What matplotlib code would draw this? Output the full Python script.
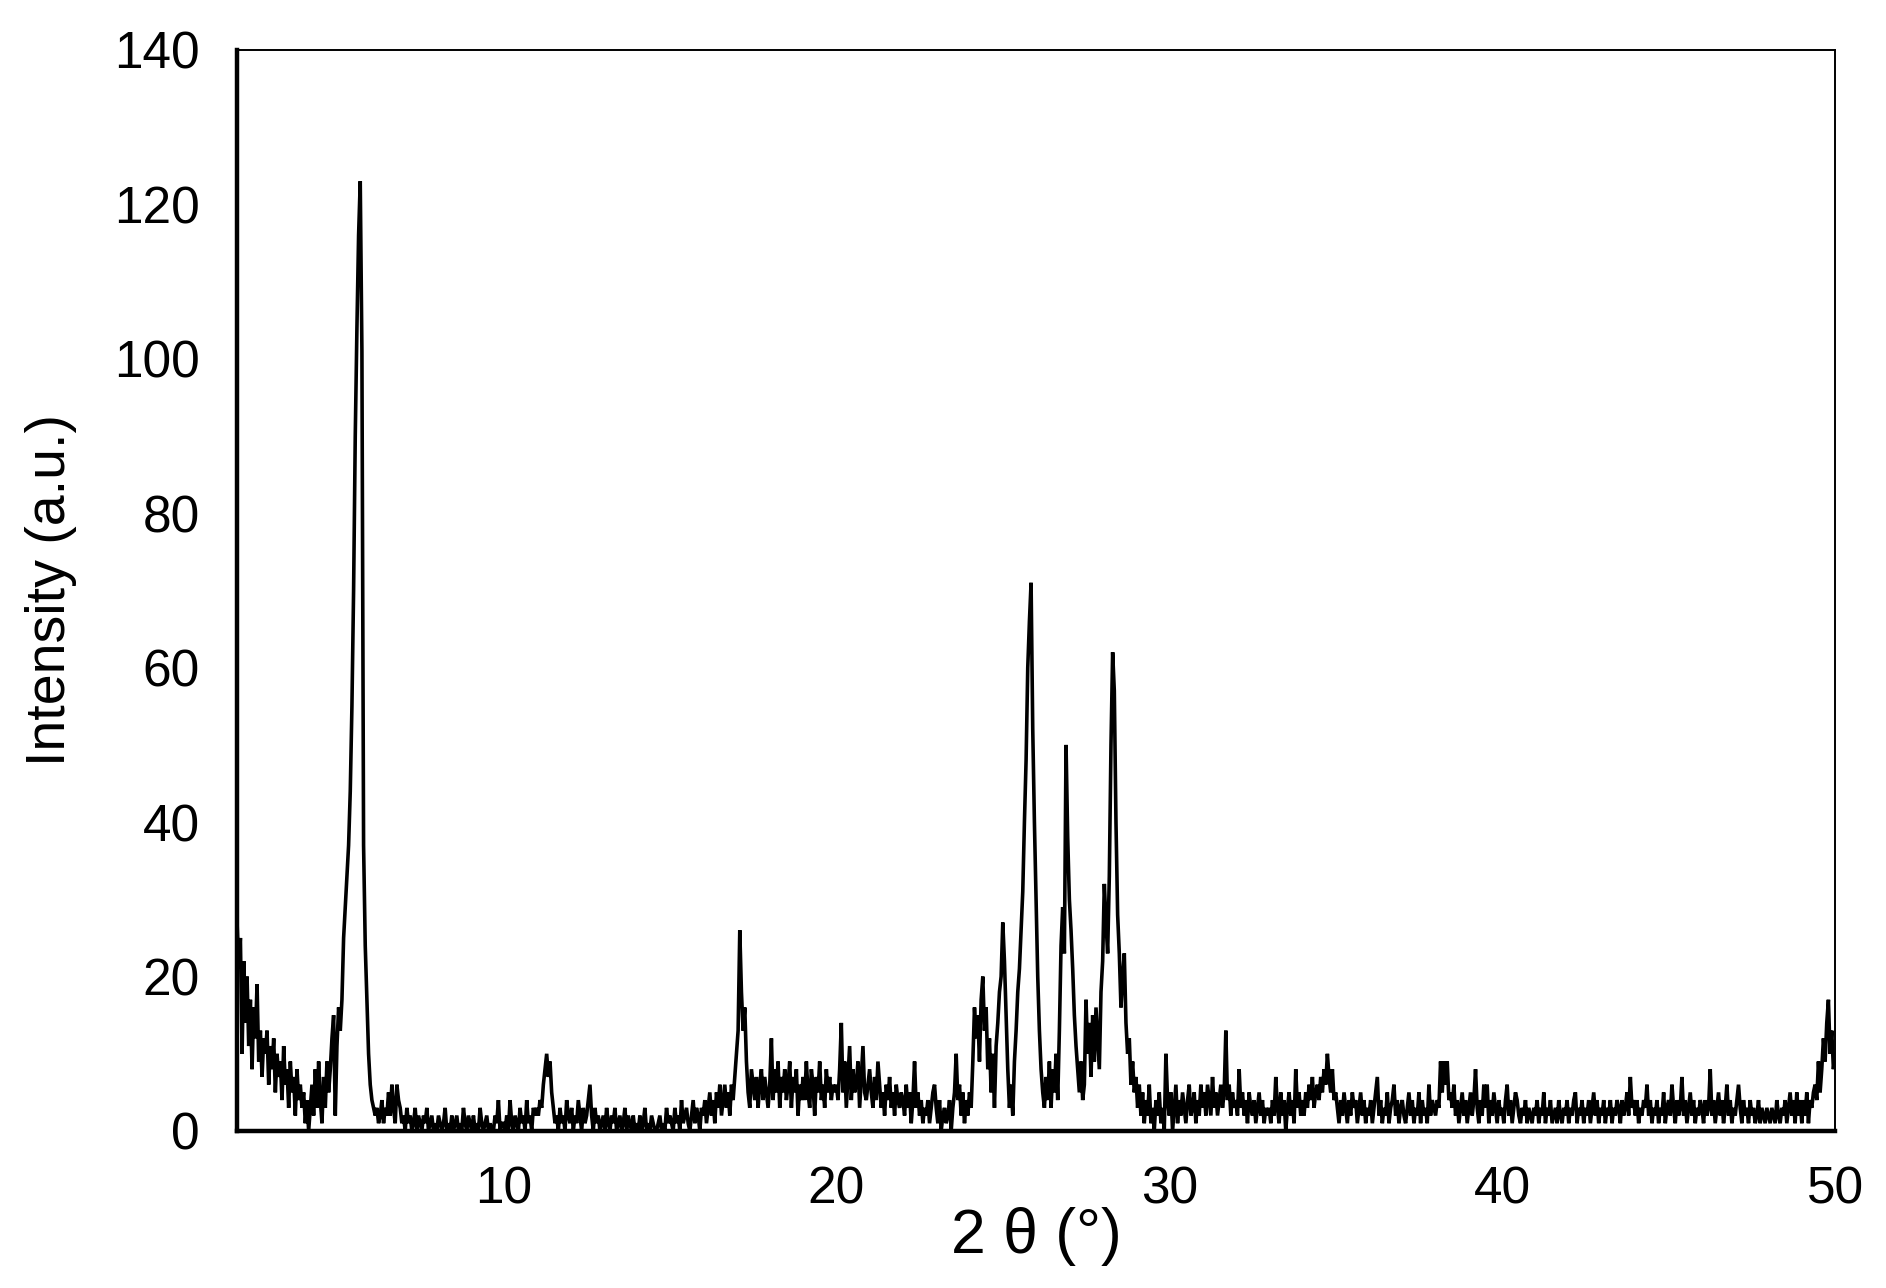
"""
XRD 衍射图谱重绘
功能：按参考图读取的强度数据绘制 2θ = 2°~50° 的 XRD 曲线
数据：扫描步长 0.05°，数值为从图上估读的强度 (a.u.)
"""

import numpy as np
import matplotlib
matplotlib.use("Agg")
import matplotlib.pyplot as plt

# 扫描参数
theta_start = 2.0
theta_step = 0.05

# 各区段强度（每行 1°，20 个点）
counts_2_6 = [
    27, 21, 25, 10, 22, 14, 20, 11, 17, 8, 16, 12, 19, 9, 13, 7, 12, 10, 13, 6,
    11, 8, 12, 5, 10, 7, 9, 4, 11, 6, 8, 3, 9, 5, 7, 2, 8, 4, 6, 3,
    5, 1, 4, 0, 3, 6, 2, 8, 3, 9, 4, 1, 7, 3, 9, 5, 8, 12, 15, 2,
    11, 16, 13, 17, 25, 29, 33, 37, 44, 55, 70, 90, 104, 116, 123, 101, 37, 24, 17, 10,
]

counts_6_12 = [
    6, 4, 3, 2, 3, 1, 2, 4, 1, 3, 2, 5, 2, 6, 3, 1, 6, 4, 3, 1,
    2, 0, 3, 1, 2, 0, 1, 3, 0, 2, 1, 0, 2, 1, 3, 0, 1, 2, 0, 1,
    0, 2, 1, 0, 1, 3, 0, 1, 0, 2, 0, 1, 2, 0, 1, 0, 3, 1, 0, 2,
    1, 0, 2, 0, 1, 0, 3, 1, 0, 1, 2, 0, 1, 0, 0, 2, 1, 4, 0, 1,
    1, 0, 2, 0, 4, 1, 0, 2, 1, 0, 3, 1, 2, 0, 4, 1, 2, 0, 3, 2,
    3, 2, 4, 3, 6, 8, 10, 7, 9, 5, 3, 1, 2, 0, 3, 1, 2, 0, 4, 2,
]

counts_12_18 = [
    1, 3, 0, 2, 1, 4, 2, 0, 3, 1, 2, 4, 6, 2, 0, 3, 1, 2, 0, 1,
    2, 0, 3, 1, 0, 2, 1, 3, 0, 1, 2, 0, 1, 3, 0, 2, 1, 0, 2, 0,
    1, 0, 2, 0, 1, 3, 0, 1, 0, 2, 1, 0, 0, 1, 2, 0, 1, 0, 3, 1,
    2, 1, 0, 3, 1, 2, 0, 4, 1, 2, 3, 1, 0, 2, 4, 1, 3, 2, 0, 3,
    2, 4, 1, 3, 5, 2, 4, 1, 5, 3, 6, 2, 4, 6, 3, 5, 2, 6, 4, 7,
    10, 13, 26, 18, 13, 16, 9, 5, 3, 8, 6, 4, 7, 3, 6, 8, 4, 7, 5, 3,
]

counts_18_24 = [
    6, 12, 4, 8, 5, 9, 3, 7, 5, 8, 4, 6, 9, 3, 7, 5, 8, 2, 6, 4,
    7, 4, 9, 5, 3, 8, 6, 2, 7, 5, 9, 4, 6, 3, 8, 5, 7, 4, 6, 5,
    6, 4, 8, 14, 5, 9, 3, 7, 11, 4, 8, 5, 6, 9, 3, 7, 11, 5, 4, 6,
    8, 5, 3, 7, 4, 9, 6, 3, 5, 2, 6, 4, 7, 3, 5, 2, 6, 4, 3, 5,
    4, 2, 6, 3, 5, 1, 4, 9, 3, 5, 2, 4, 1, 3, 2, 4, 1, 3, 5, 6,
    3, 1, 4, 0, 2, 3, 1, 2, 4, 0, 3, 5, 10, 4, 6, 2, 5, 1, 4, 2,
]

counts_24_30 = [
    5, 3, 9, 16, 12, 15, 9, 17, 20, 13, 16, 8, 12, 5, 10, 3, 11, 14, 18, 20,
    27, 22, 15, 8, 3, 6, 2, 9, 13, 18, 21, 26, 31, 40, 48, 60, 66, 71, 52, 40,
    30, 20, 13, 8, 5, 3, 7, 4, 9, 3, 8, 5, 10, 4, 13, 24, 29, 23, 50, 38,
    30, 26, 21, 15, 11, 8, 5, 9, 4, 6, 17, 10, 14, 7, 15, 9, 16, 12, 8, 18,
    22, 32, 27, 23, 33, 50, 62, 57, 40, 28, 23, 16, 20, 23, 14, 10, 12, 6, 9, 5,
    7, 3, 6, 2, 5, 1, 4, 2, 6, 1, 3, 0, 4, 2, 5, 1, 3, 0, 10, 4,
]

counts_30_40 = [
    2, 5, 0, 3, 6, 1, 4, 2, 5, 3, 1, 4, 6, 2, 3, 5, 1, 4, 2, 6,
    3, 5, 2, 6, 4, 2, 7, 3, 5, 2, 4, 6, 3, 5, 13, 4, 6, 2, 5, 3,
    4, 2, 8, 3, 5, 2, 4, 1, 5, 3, 2, 4, 1, 3, 5, 2, 4, 1, 3, 2,
    3, 1, 4, 2, 7, 3, 1, 5, 2, 4, 0, 3, 5, 2, 4, 1, 8, 3, 5, 2,
    4, 2, 5, 3, 6, 4, 7, 3, 5, 6, 4, 7, 5, 8, 6, 10, 7, 5, 8, 4,
    5, 3, 1, 4, 2, 5, 3, 1, 4, 2, 5, 3, 4, 1, 3, 5, 2, 4, 1, 3,
    2, 4, 1, 3, 5, 7, 2, 4, 1, 3, 2, 5, 1, 3, 4, 6, 2, 4, 1, 3,
    4, 2, 1, 3, 5, 2, 4, 1, 3, 2, 5, 1, 4, 2, 3, 1, 6, 2, 4, 3,
    2, 4, 3, 9, 5, 9, 6, 9, 4, 5, 3, 6, 2, 4, 1, 3, 5, 2, 4, 1,
    3, 5, 2, 4, 8, 3, 1, 4, 2, 6, 3, 6, 1, 4, 2, 5, 3, 1, 4, 2,
]

counts_40_50 = [
    3, 1, 4, 6, 2, 4, 1, 3, 5, 4, 2, 1, 3, 2, 4, 1, 3, 2, 1, 3,
    2, 4, 1, 3, 2, 5, 1, 3, 2, 4, 1, 2, 3, 1, 4, 2, 1, 3, 2, 4,
    1, 3, 2, 4, 5, 1, 3, 2, 4, 1, 3, 2, 4, 1, 3, 5, 2, 4, 1, 3,
    2, 4, 1, 3, 2, 4, 1, 3, 2, 4, 3, 1, 4, 2, 3, 5, 2, 7, 3, 4,
    2, 4, 1, 3, 2, 4, 3, 6, 2, 4, 1, 3, 2, 4, 1, 3, 2, 5, 1, 3,
    4, 2, 6, 3, 1, 4, 2, 3, 7, 2, 4, 1, 3, 5, 2, 4, 1, 3, 2, 4,
    3, 1, 4, 2, 3, 8, 2, 4, 1, 3, 5, 2, 4, 1, 3, 6, 2, 4, 1, 3,
    2, 4, 6, 3, 1, 4, 2, 3, 1, 4, 2, 3, 1, 2, 4, 1, 3, 2, 1, 3,
    2, 1, 3, 2, 1, 4, 2, 1, 3, 2, 4, 1, 3, 5, 2, 4, 1, 5, 2, 4,
    1, 4, 2, 5, 1, 4, 3, 5, 6, 4, 9, 5, 8, 12, 9, 14, 17, 10, 13, 8,
    10,
]

# 坐标轴刻度
x_ticks = [10, 20, 30, 40, 50]
y_ticks = [0, 20, 40, 60, 80, 100, 120, 140]


def plot_xrd(output_file="out.png"):
    """绘制 XRD 图谱并保存"""
    plt.rcParams['font.family'] = ['Liberation Sans', 'DejaVu Sans']

    intensity = np.array(counts_2_6 + counts_6_12 + counts_12_18 + counts_18_24
                         + counts_24_30 + counts_30_40 + counts_40_50, dtype=float)
    two_theta = theta_start + theta_step * np.arange(len(intensity))

    fig = plt.figure(figsize=(18.86, 12.88), dpi=100)
    ax = fig.add_axes([0.1257, 0.1219, 0.8473, 0.8393])

    ax.plot(two_theta, intensity, color='black', linewidth=2.6, solid_joinstyle='miter')

    ax.set_xlim(2, 50)
    ax.set_ylim(0, 140)
    ax.set_xticks(x_ticks)
    ax.set_yticks(y_ticks)
    ax.tick_params(axis='both', length=0, labelsize=37)
    ax.tick_params(axis='y', pad=27)
    ax.tick_params(axis='x', pad=25)

    # 左、下边框加粗
    ax.spines['left'].set_linewidth(3.2)
    ax.spines['bottom'].set_linewidth(3.2)
    ax.spines['top'].set_linewidth(1.4)
    ax.spines['right'].set_linewidth(1.4)

    ax.set_xlabel('2 θ (°)', fontsize=45)
    ax.set_ylabel('Intensity (a.u.)', fontsize=40)
    ax.xaxis.set_label_coords(0.5, -0.07)
    ax.yaxis.set_label_coords(-0.1, 0.5)

    fig.savefig(output_file, dpi=100)
    plt.close(fig)
    print(f"图已保存为: {output_file}")


def main():
    plot_xrd('out.png')


if __name__ == "__main__":
    main()
